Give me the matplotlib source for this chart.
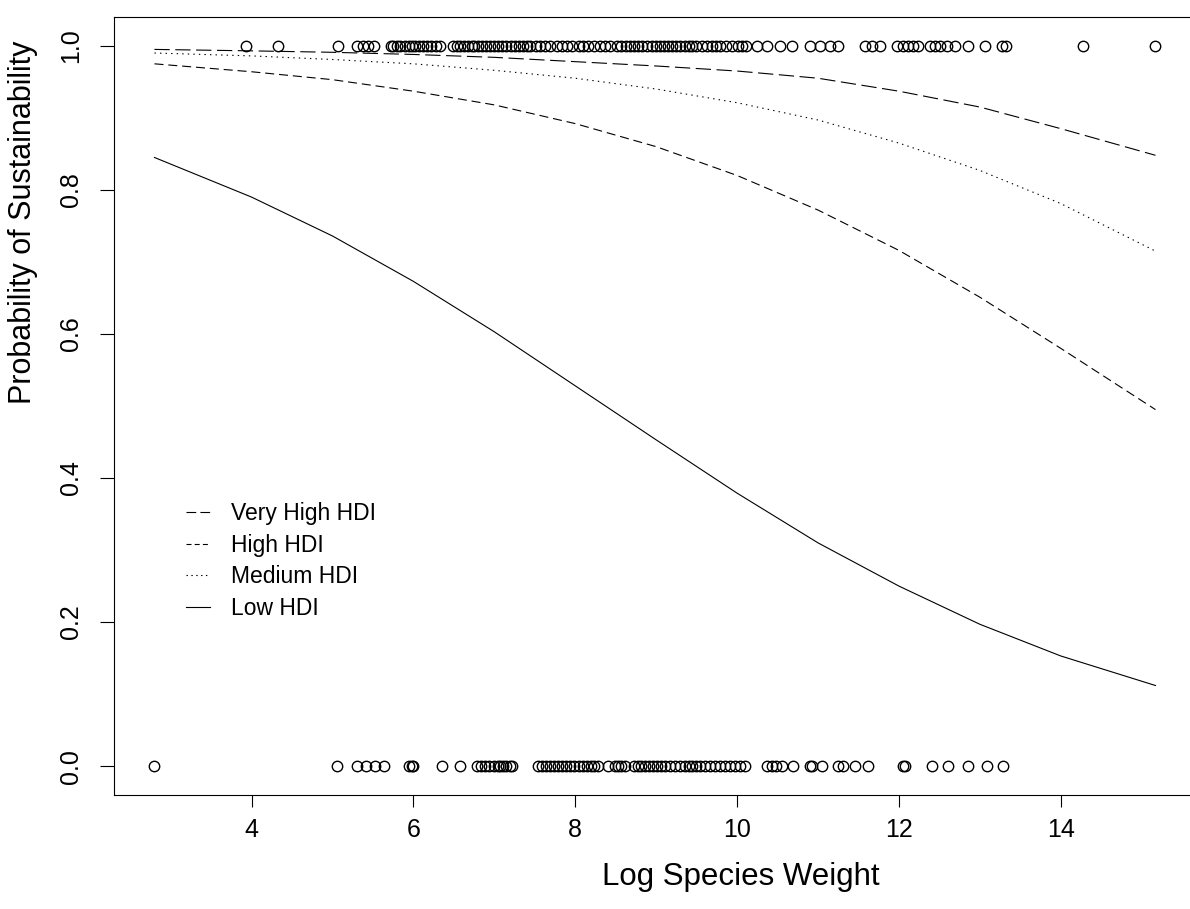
import matplotlib
matplotlib.use("Agg")
import matplotlib.pyplot as plt
from matplotlib.lines import Line2D

plt.rcParams["font.family"] = ["Liberation Sans", "DejaVu Sans"]
plt.rcParams["lines.scale_dashes"] = False

# ---- fitted curves ----
curve_x = [2.80, 4, 5, 6, 7, 8, 9, 10, 11, 12, 13, 14, 15.17]
very_high = [0.995, 0.993, 0.991, 0.988, 0.984, 0.978, 0.972, 0.965, 0.955, 0.937, 0.915, 0.885, 0.848]
high = [0.975, 0.964, 0.953, 0.937, 0.918, 0.892, 0.860, 0.820, 0.772, 0.716, 0.651, 0.580, 0.495]
medium = [0.990, 0.986, 0.981, 0.975, 0.966, 0.955, 0.940, 0.921, 0.897, 0.865, 0.827, 0.781, 0.715]
low = [0.845, 0.790, 0.736, 0.673, 0.603, 0.528, 0.453, 0.379, 0.310, 0.250, 0.197, 0.153, 0.112]

# ---- observed species (sustainable = 1, not = 0) ----
x_sustained = [3.93, 4.33, 5.07, 5.30, 5.38, 5.44, 5.51, 5.72, 5.75, 5.80, 5.84, 5.89, 5.94,
               5.98, 6.02, 6.07, 6.12, 6.17, 6.22, 6.28, 6.33, 6.49, 6.54, 6.58, 6.63, 6.67,
               6.72, 6.75, 6.80, 6.85, 6.90, 6.95, 7.00, 7.05, 7.10, 7.15, 7.20, 7.25, 7.30,
               7.35, 7.40, 7.44, 7.51, 7.57, 7.63, 7.69, 7.77, 7.84, 7.90, 7.96, 8.04, 8.10,
               8.16, 8.23, 8.31, 8.37, 8.43, 8.51, 8.56, 8.63, 8.68, 8.73, 8.78, 8.83, 8.89,
               8.95, 9.00, 9.05, 9.10, 9.15, 9.20, 9.25, 9.30, 9.35, 9.40, 9.44, 9.49, 9.57,
               9.63, 9.69, 9.74, 9.79, 9.86, 9.94, 10.01, 10.06, 10.11, 10.25, 10.37, 10.53,
               10.68, 10.90, 11.02, 11.15, 11.25, 11.58, 11.67, 11.77, 11.98, 12.05, 12.11,
               12.17, 12.23, 12.38, 12.44, 12.51, 12.59, 12.69, 12.85, 13.06, 13.27, 13.32,
               14.27, 15.17]
x_failed = [2.80, 5.06, 5.30, 5.41, 5.53, 5.64, 5.94, 5.98, 6.00, 6.35, 6.57, 6.79, 6.84,
            6.89, 6.94, 6.99, 7.04, 7.07, 7.11, 7.15, 7.19, 7.22, 7.54, 7.59, 7.64, 7.69,
            7.74, 7.79, 7.84, 7.89, 7.94, 7.99, 8.04, 8.09, 8.14, 8.19, 8.23, 8.28, 8.41,
            8.49, 8.53, 8.57, 8.62, 8.72, 8.77, 8.81, 8.86, 8.91, 8.96, 9.01, 9.06, 9.11,
            9.17, 9.23, 9.30, 9.35, 9.40, 9.44, 9.49, 9.54, 9.60, 9.67, 9.73, 9.79, 9.85,
            9.91, 9.98, 10.04, 10.10, 10.37, 10.43, 10.48, 10.56, 10.69, 10.90, 10.93,
            11.05, 11.25, 11.31, 11.46, 11.62, 12.05, 12.07, 12.41, 12.60, 12.85, 13.09, 13.28]

x_ticks = [4, 6, 8, 10, 12, 14]
y_ticks = [0.0, 0.2, 0.4, 0.6, 0.8, 1.0]
legend_labels = ["Very High HDI", "High HDI", "Medium HDI", "Low HDI"]

fig = plt.figure(figsize=(11.9, 9.09), dpi=100)
ax = fig.add_axes([0.0958, 0.1254, 0.9092, 0.8559])

ax.plot(x_sustained, [1] * len(x_sustained), "o", mfc="none", mec="black", ms=7.5, mew=1.0)
ax.plot(x_failed, [0] * len(x_failed), "o", mfc="none", mec="black", ms=7.5, mew=1.0)

lw = 0.8
ax.plot(curve_x, very_high, color="black", lw=lw, dashes=(11, 4))
ax.plot(curve_x, high, color="black", lw=lw, dashes=(6.5, 3.5))
ax.plot(curve_x, medium, color="black", lw=lw, dashes=(1, 3))
ax.plot(curve_x, low, color="black", lw=lw)

ax.set_xlim(2.30, 15.67)
ax.set_ylim(-0.04, 1.04)
ax.set_xticks(x_ticks)
ax.set_xticklabels([str(t) for t in x_ticks])
ax.set_yticks(y_ticks)
ax.set_yticklabels([f"{t:.1f}" for t in y_ticks], rotation=90, va="center")

for s in ax.spines.values():
    s.set_linewidth(0.8)
ax.tick_params(axis="x", length=8.5, width=0.8, pad=8, labelsize=18)
ax.tick_params(axis="y", length=10, width=0.8, pad=12, labelsize=18)

ax.set_xlabel("Log Species Weight", fontsize=22.5)
ax.xaxis.set_label_coords(0.5795, -0.086)
ax.set_ylabel("Probability of Sustainability", fontsize=22)
ax.yaxis.set_label_coords(-0.0706, 0.7365)

# legend keys drawn shorter, like R's legend()
handles = [
    Line2D([], [], color="black", lw=lw, dashes=(7, 3)),
    Line2D([], [], color="black", lw=lw, dashes=(3.6, 2.3)),
    Line2D([], [], color="black", lw=lw, dashes=(1, 2.5)),
    Line2D([], [], color="black", lw=lw),
]
ax.legend(handles, legend_labels, frameon=False, fontsize=16.5,
          loc="upper left", bbox_to_anchor=(0.058, 0.388), handlelength=1.05,
          handletextpad=0.9, labelspacing=0.37, borderaxespad=0)

fig.savefig("out.png", dpi=100)
